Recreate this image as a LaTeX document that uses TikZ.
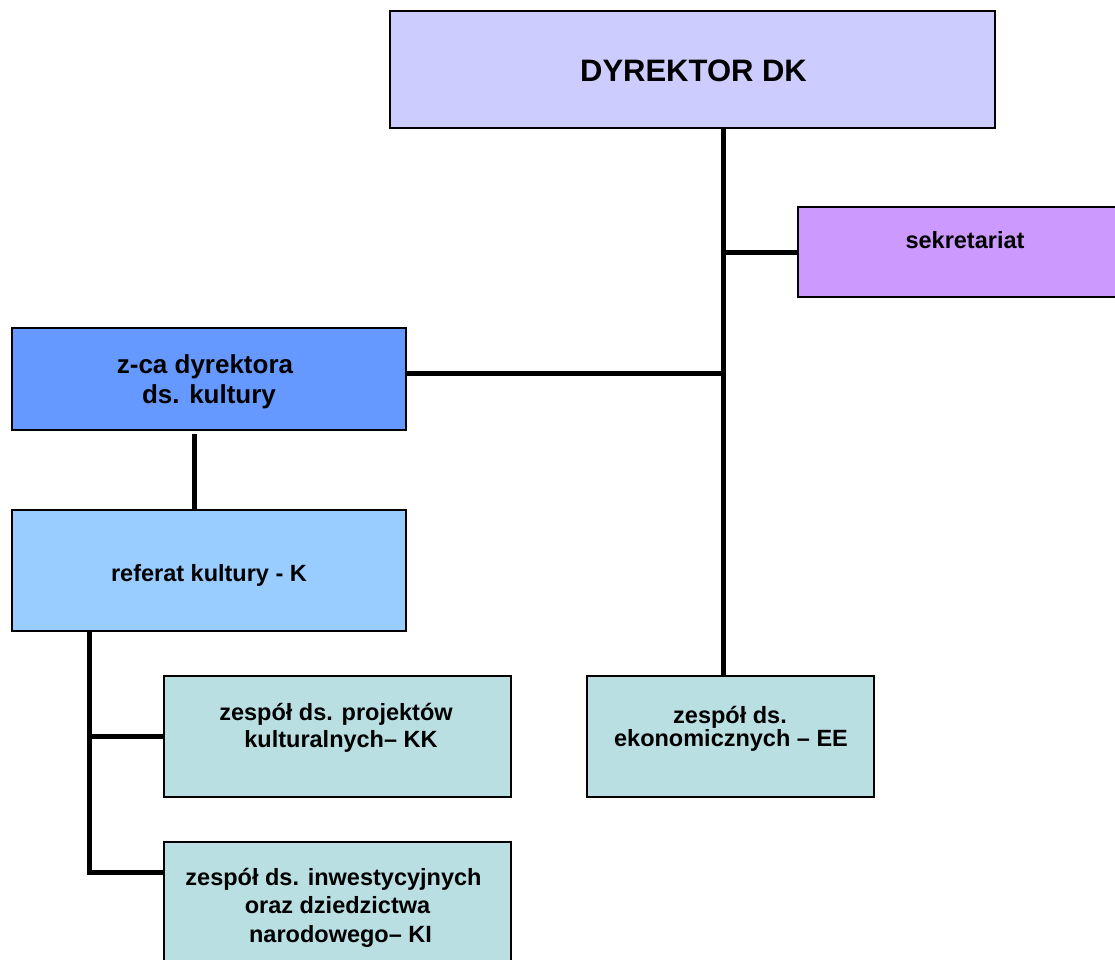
\documentclass[tikz,border=0pt]{standalone}
\usepackage{fontspec}
\setmainfont{Liberation Sans}
\usetikzlibrary{calc}
\definecolor{cdyr}{HTML}{CCCCFF}
\definecolor{csek}{HTML}{CC99FF}
\definecolor{czca}{HTML}{6699FF}
\definecolor{cref}{HTML}{99CCFF}
\definecolor{cteal}{HTML}{B9DFE2}
\tikzset{
  orgbox/.style={draw=black, line width=2pt, inner sep=0pt, outer sep=0pt},
  conn/.style={draw=black, line width=5pt},
  lbl/.style={anchor=base, inner sep=0pt, font=\bfseries\fontsize{23.5}{28}\selectfont},
  lblmid/.style={anchor=base, inner sep=0pt, font=\bfseries\fontsize{26}{30}\selectfont},
  lblbig/.style={anchor=base, inner sep=0pt, font=\bfseries\fontsize{31}{36}\selectfont}
}
\begin{document}
\begin{tikzpicture}[x=1pt,y=-1pt]
\useasboundingbox (0,0) rectangle (1115,959);
% boxes
\node[orgbox, fill=cdyr, minimum width=605pt, minimum height=117pt] (dyr) at (692.5,69.5) {};
\node[orgbox, fill=csek, minimum width=322pt, minimum height=90pt] (sek) at (959,252) {};
\node[orgbox, fill=czca, minimum width=394pt, minimum height=102pt] (zca) at (209,379) {};
\node[orgbox, fill=cref, minimum width=394pt, minimum height=121pt] (ref) at (209,570.5) {};
\node[orgbox, fill=cteal, minimum width=347pt, minimum height=121pt] (kk) at (337.5,736.5) {};
\node[orgbox, fill=cteal, minimum width=347pt, minimum height=124pt] (ki) at (337.5,904) {};
\node[orgbox, fill=cteal, minimum width=287pt, minimum height=121pt] (ee) at (730.5,736.5) {};
% texts
\node[lblbig] (tdyr) at (693.5,81) {DYREKTOR DK};
\node[lbl] (tsek) at (965,248) {sekretariat};
\node[lblmid] (tzca1) at (205,373) {z-ca dyrektora};
\node[lblmid] (tzca2) at (209,403) {ds. kultury};
\node[lbl] (tref) at (209,581) {referat kultury - K};
\node[lbl] (tkk1) at (336,720) {zespół ds. projektów};
\node[lbl] (tkk2) at (341,747) {kulturalnych– KK};
\node[lbl] (tki1) at (333.5,885) {zespół ds. inwestycyjnych};
\node[lbl] (tki2) at (337.5,913) {oraz dziedzictwa};
\node[lbl] (tki3) at (340.5,942) {narodowego– KI};
\node[lbl] (tee1) at (730,723) {zespół ds.};
\node[lbl] (tee2) at (731,746) {ekonomicznych – EE};
% connector helper coordinates
\coordinate (trunk) at (723,0);
\coordinate (zcajoin) at (723,373);
\coordinate (zcadown) at (194,0);
\coordinate (refdown) at (89,0);
\coordinate (kijoin) at (89,872);
% connectors
\draw[conn] (dyr.south -| trunk) -- (ee.north -| trunk);
\draw[conn] (sek.west) -- (sek.west -| trunk);
\draw[conn] (zcajoin) -- (zcajoin -| zca.east);
\draw[conn] ($(zca.south -| zcadown)+(0,4)$) -- (ref.north -| zcadown);
\draw[conn] (ref.south -| refdown) -- (kijoin) -- (kijoin -| ki.west);
\draw[conn] (kk.west -| refdown) -- (kk.west);
\end{tikzpicture}
\end{document}
